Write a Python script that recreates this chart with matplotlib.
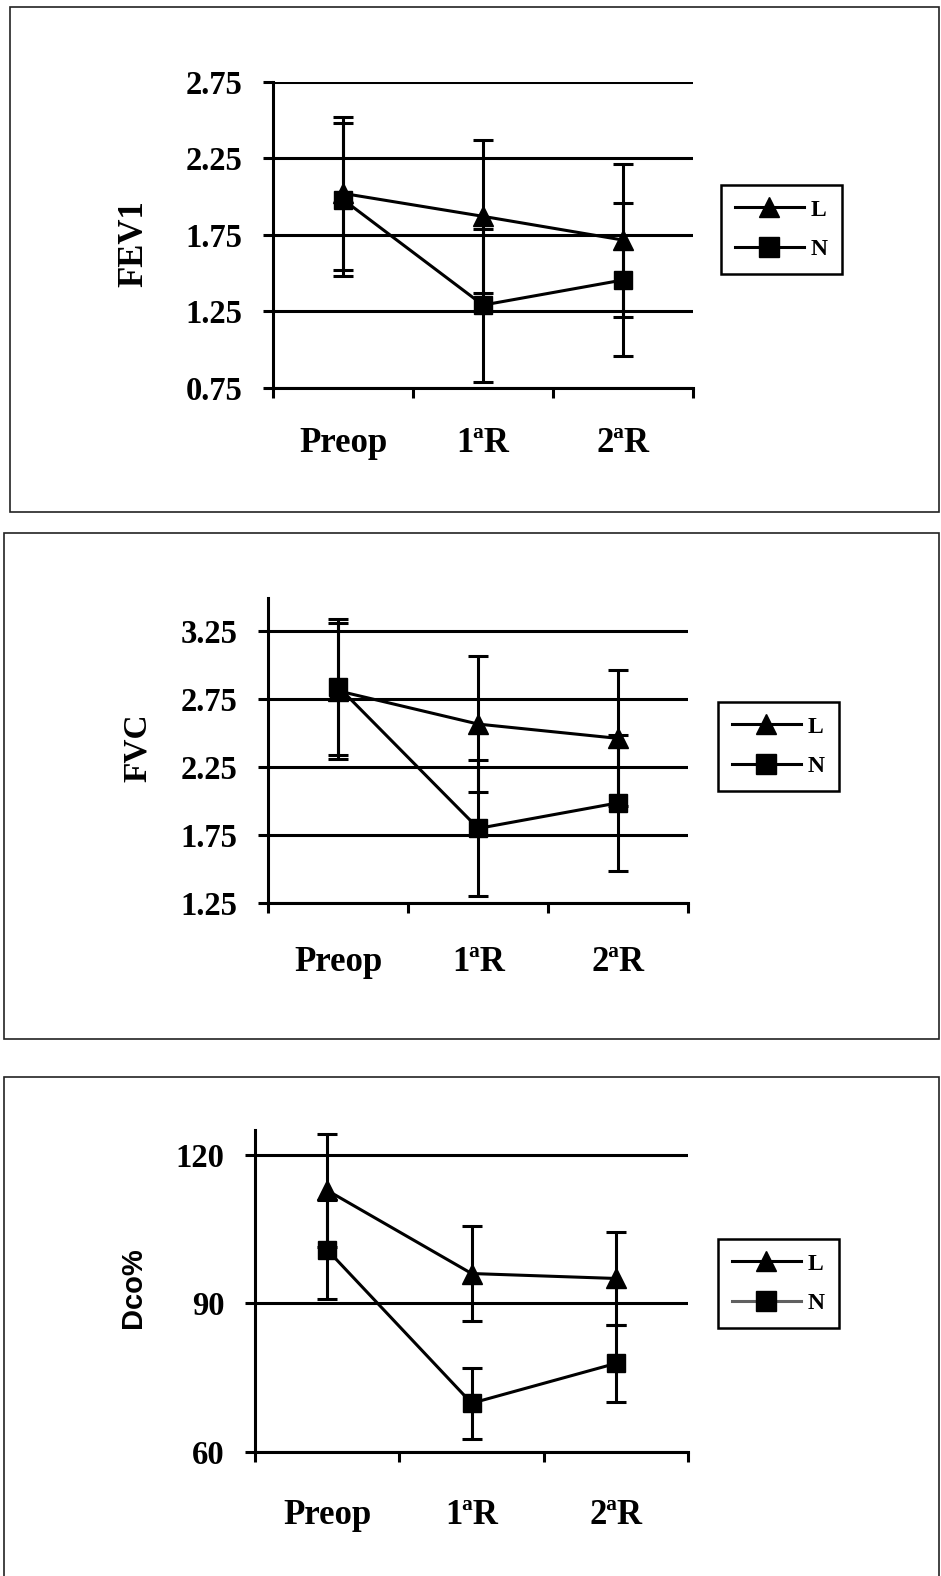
import matplotlib.pyplot as plt
from matplotlib.lines import Line2D
from matplotlib.patches import Rectangle

plt.rcParams['font.family'] = ['Liberation Serif', 'DejaVu Sans']

categories = ['Preop', '1ªR', '2ªR']

fev1_L = [2.02, 1.87, 1.715]
fev1_N = [1.98, 1.29, 1.454]
fev1_L_err = [0.5, 0.5, 0.5]
fev1_N_err = [0.5, 0.5, 0.5]
fev1_ticks = [0.75, 1.25, 1.75, 2.25, 2.75]

fvc_L = [2.81, 2.566, 2.461]
fvc_N = [2.84, 1.80, 1.988]
fvc_L_err = [0.5, 0.5, 0.5]
fvc_N_err = [0.5, 0.5, 0.5]
fvc_ticks = [1.25, 1.75, 2.25, 2.75, 3.25]

dco_L = [112.8, 96.0, 95.0]
dco_N = [100.8, 69.8, 77.85]
dco_L_err = [11.4, 9.6, 9.4]
dco_N_err = [10.0, 7.2, 7.75]
dco_ticks = [60, 90, 120]

W, H = 941, 1576
fig = plt.figure(figsize=(W / 100, H / 100), dpi=100)


def px_axes(left, right, top, bottom):
    return fig.add_axes([left / W, 1 - bottom / H, (right - left) / W, (bottom - top) / H])


def draw_panel(ax, L, N, L_err, N_err, ticks, ylim, ylabel, label_xy, label_font, label_size,
               legend_xy, xpad, n_legend_color='black'):
    x = [0.5, 1.5, 2.5]
    ax.errorbar(x, L, yerr=L_err, fmt='none', ecolor='black', elinewidth=2.2, capsize=7, capthick=2.2, zorder=3)
    ax.errorbar(x, N, yerr=N_err, fmt='none', ecolor='black', elinewidth=2.2, capsize=7, capthick=2.2, zorder=3)
    ax.plot(x, L, color='black', lw=2.2, marker='^', markersize=14, zorder=4)
    ax.plot(x, N, color='black', lw=2.2, marker='s', markersize=13, zorder=5)

    ax.set_xlim(0, 3)
    ax.set_ylim(*ylim)
    ax.set_yticks(ticks)
    ax.set_yticklabels([f'{t:g}' if isinstance(t, int) else f'{t:.2f}' for t in ticks])
    for t in ticks:
        ax.axhline(t, color='black', lw=2.2, zorder=1)

    ax.set_xticks([0, 1, 2, 3])
    ax.set_xticklabels([])
    ax.set_xticks(x, minor=True)
    ax.set_xticklabels(categories, minor=True)
    ax.tick_params(axis='x', which='major', direction='out', length=7, width=2.2)
    ax.tick_params(axis='x', which='minor', length=0, pad=xpad, labelsize=25)
    ax.tick_params(axis='y', direction='out', length=7, width=2.2, pad=15, labelsize=23.5)
    for lab in ax.get_xticklabels(minor=True) + ax.get_yticklabels():
        lab.set_fontweight('bold')

    for s in ['top', 'right']:
        ax.spines[s].set_visible(False)
    for s in ['left', 'bottom']:
        ax.spines[s].set_linewidth(2.2)

    ax.set_ylabel(ylabel, fontsize=label_size, fontweight='bold', family=label_font)
    ax.yaxis.set_label_coords(*label_xy)

    handles = [
        Line2D([], [], color='black', lw=2.2, marker='^', markersize=15),
        Line2D([], [], color=n_legend_color, lw=2.2, marker='s', markersize=14,
               markerfacecolor='black', markeredgecolor='black'),
    ]
    leg = ax.legend(handles, ['L', 'N'], loc='upper left',
                    bbox_to_anchor=(legend_xy[0] / W, 1 - legend_xy[1] / H),
                    bbox_transform=fig.transFigure, borderaxespad=0,
                    prop={'weight': 'bold', 'size': 17}, handlelength=2.9,
                    handletextpad=0.3, labelspacing=0.75, borderpad=0.6,
                    fancybox=False, frameon=True, framealpha=1)
    leg.get_frame().set_edgecolor('black')
    leg.get_frame().set_linewidth(1.8)


ax1 = px_axes(273, 693, 81.7, 387.7)
draw_panel(ax1, fev1_L, fev1_N, fev1_L_err, fev1_N_err, fev1_ticks, (0.75, 2.75),
           'FEV1', (-0.293, 0.47), ['Liberation Serif'], 25, (721, 185), 28)

ax2 = px_axes(268.3, 688.3, 598.3, 903.3)
draw_panel(ax2, fvc_L, fvc_N, fvc_L_err, fvc_N_err, fvc_ticks, (1.25, 3.49),
           'FVC', (-0.275, 0.51), ['Liberation Serif'], 24, (718, 702), 31)

ax3 = px_axes(255, 688.3, 1130, 1451.7)
draw_panel(ax3, dco_L, dco_N, dco_L_err, dco_N_err, dco_ticks, (60, 125),
           'Dco%', (-0.249, 0.51), ['Liberation Sans'], 21, (718, 1239), 34,
           n_legend_color='#606060')

# outer frames around each chart
for x0, y0, x1, y1 in [(10, 7, 939, 512), (4, 533, 939, 1039), (4, 1077, 939, 1590)]:
    fig.add_artist(Rectangle((x0 / W, 1 - y1 / H), (x1 - x0) / W, (y1 - y0) / H,
                             transform=fig.transFigure, fill=False, edgecolor='#222222', lw=1.2))

fig.savefig('out.png', dpi=100)
